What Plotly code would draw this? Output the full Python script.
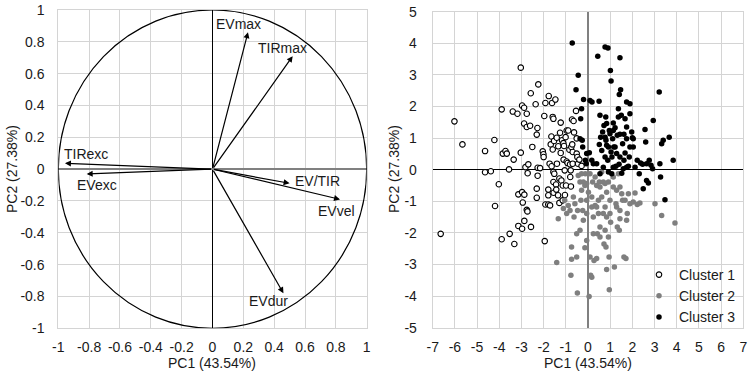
import plotly.graph_objects as go

# ---------------- Loadings (left panel) ----------------
var_names = ["EVmax", "TIRmax", "TIRexc", "EVexc", "EV/TIR", "EVvel", "EVdur"]
load_pc1 = [0.23, 0.52, -0.957, -0.816, 0.50, 0.827, 0.46]
load_pc2 = [0.86, 0.71, 0.037, -0.03, -0.089, -0.19, -0.78]
label_x = [0.01, 0.285, -0.975, -0.89, 0.52, 0.67, 0.225]
label_y = [0.91, 0.76, 0.095, -0.10, -0.074, -0.26, -0.83]

left_ticks = [-1, -0.8, -0.6, -0.4, -0.2, 0, 0.2, 0.4, 0.6, 0.8, 1]
left_ticktext = ["-1", "-0.8", "-0.6", "-0.4", "-0.2", "0", "0.2", "0.4", "0.6", "0.8", "1"]

# ---------------- Scores (right panel) ----------------
c1_x = [-6.64, -6.02, -5.66, -4.64, -4.64, -4.38, -4.22, -4.19, -4.02, -3.89, -3.89, -3.84, -3.72, -3.66,
        -3.56, -3.53, -3.39, -3.35, -3.32, -3.18, -3.14, -3.14, -3.03, -3.03, -2.97, -2.97, -2.97, -2.94,
        -2.88, -2.88, -2.87, -2.87, -2.82, -2.76, -2.76, -2.76, -2.73, -2.72, -2.69, -2.61, -2.58, -2.57,
        -2.51, -2.36, -2.31, -2.28, -2.31, -2.31, -2.27, -2.27, -2.24, -2.16, -2.04, -2.01, -2.00, -1.97,
        -1.95, -1.92, -1.92, -1.79, -1.79, -1.79, -1.77, -1.73, -1.71, -1.68, -1.65, -1.64, -1.62, -1.59,
        -1.56, -1.59, -1.56, -1.56, -1.55, -1.53, -1.52, -1.47, -1.44, -1.43, -1.41, -1.40, -1.35, -1.34,
        -1.29, -1.29, -1.26, -1.23, -1.23, -1.20, -1.17, -1.14, -1.14, -1.11, -1.08, -1.10, -1.05, -1.04,
        -1.01, -0.99, -0.96, -0.96, -0.92, -0.89, -0.84, -0.81, -0.80, -0.78, -0.77, -0.75, -0.72, -0.71,
        -0.69, -0.69, -0.63, -0.51, -0.51, -0.48, -0.45, -0.54, -0.65, -0.29, -0.39]
c1_y = [-2.03, 1.53, 0.80, 0.59, -0.08, -0.05, 0.94, -1.15, -0.46, 1.91, -2.20, 0.51, 0.59, 0.51,
        0.01, -2.03, 1.84, 0.32, -2.35, 1.77, -0.78, -1.78, 3.23, 0.54, 2.03, -0.71, -1.87, -1.04,
        1.96, 1.46, -0.79, -1.62, 0.08, 1.77, 1.35, -1.27, -1.32, -0.11, 0.17, 1.39, 2.42, -1.81,
        0.72, 2.07, 1.11, 1.32, -0.60, -0.89, 0.06, -0.19, 2.70, 0.05, 0.58, 0.49, 0.40, 1.70,
        -2.26, -1.10, 2.11, -1.10, -0.63, -0.81, 2.33, 0.19, -1.13, 0.80, 1.05, 0.11, 2.11, 1.67,
        1.61, 0.64, -0.07, -0.39, -0.73, 0.91, -0.13, 2.22, -0.47, -0.63, 1.01, 0.19, -0.81, 0.74,
        -0.28, -1.05, 1.17, 1.49, 0.53, -0.34, 0.93, -0.50, -0.97, 0.84, 0.75, 0.32, -0.02, -0.80,
        1.03, -0.50, 1.24, 0.26, 0.21, 1.24, 0.63, 0.17, -0.23, -0.02, -0.53, 0.72, 1.59, 0.80,
        0.56, 0.19, 1.18, 0.99, 0.51, 0.40, 0.19, 1.86, 1.54, 0.12, 0.32]

c2_x = [-1.41, -1.34, -1.11, -1.05, -0.96, -0.89, -0.81, -0.77, -0.74, -0.74, -0.66, -0.63, -0.59, -0.51,
        -0.51, -0.48, -0.47, -0.44, -0.36, -0.36, -0.32, -0.29, -0.24, -0.21, -0.14, -0.12, -0.06, -0.06,
        0.02, 0.05, 0.09, 0.09, 0.12, 0.17, 0.17, 0.21, 0.24, 0.27, 0.32, 0.39, 0.39, 0.42, 0.47, 0.51,
        0.54, 0.62, 0.62, 0.69, 0.72, 0.77, 0.77, 0.81, 0.84, 0.84, 0.92, 0.95, 0.96, 0.99, 0.99, 1.02,
        1.14, 1.19, 1.26, 1.29, 1.32, 1.37, 1.41, 1.44, 1.52, 1.56, 1.62, 1.71, 1.74, 1.77, 1.82, 2.04,
        2.12, 2.22, 2.34, 3.02, 3.32, 3.92, -0.29, -0.21, -0.14, -0.06, 0.32, 0.54, 0.77, 0.92, 1.14,
        1.44, 1.67, 1.89, 0.69, 0.84, 0.47, 0.24, 0.39, 1.29, 1.44, 0.54, -0.06, 0.17]
c2_y = [-2.94, -1.55, -1.23, -0.97, -1.39, -1.13, -1.29, -3.34, -2.83, -2.45, -0.86, -1.50, -1.08, -2.03,
        -2.76, -3.90, -1.29, -0.18, -0.39, -1.92, -0.97, -0.65, -1.29, -1.60, -2.47, -0.13, -0.97, -2.24,
        -0.71, -4.01, -0.13, -2.76, -3.34, -3.40, -0.86, -0.39, -2.03, -2.87, -1.13, -0.50, -2.81, -2.03,
        -1.39, -0.39, -2.13, -0.07, -0.86, -0.39, -2.35, -1.92, -1.18, -2.45, -3.16, -0.71, -2.13, -2.76,
        -3.80, -1.39, -0.97, -1.66, -0.23, -3.08, -1.08, -0.65, -1.81, -0.13, -1.92, -1.55, -0.76, -0.97,
        -2.76, -2.81, -1.60, -1.39, -0.76, -1.02, -0.74, -1.10, -1.05, -1.08, -1.45, -1.69, -0.13, -0.39,
        -0.50, -0.44, -0.23, -0.55, -0.44, -0.39, -0.55, -0.55, -0.97, -1.08, -1.39, -1.50, -0.97, -1.50,
        -1.18, -1.18, -1.29, -1.81, -1.39, -1.18]

c3_x = [-0.71, -0.54, -0.44, -0.29, -0.33, -0.36, -0.26, -0.24, -0.20, -0.12, -0.08, -0.06, 0.06, 0.09,
        0.18, 0.24, 0.39, 0.44, 0.50, 0.51, 0.54, 0.62, 0.66, 0.72, 0.77, 0.80, 0.84, 0.84, 0.90, 0.89,
        0.92, 0.96, 0.99, 1.01, 1.04, 1.04, 1.07, 1.08, 1.11, 1.14, 1.16, 1.22, 1.26, 1.32, 1.37, 1.37,
        1.40, 1.41, 1.44, 1.44, 1.47, 1.50, 1.52, 1.56, 1.62, 1.67, 1.67, 1.74, 1.74, 1.82, 1.89, 1.89,
        2.00, 2.04, 2.12, 2.22, 2.31, 2.37, 2.46, 2.49, 2.57, 2.60, 2.64, 2.64, 2.72, 2.76, 2.84, 2.91,
        2.94, 3.21, 3.24, 3.27, 3.32, 3.39, 3.47, 3.66, 3.84, 0.57, 0.77, 0.81, 0.92, 1.22, 1.29, 1.44,
        1.62, 1.86, 0.69, 1.14, 1.59, 1.74, 0.17, 0.54, 1.89, 2.04, 0.77, 1.14, 1.74, 1.97]
c3_y = [4.01, 2.53, 2.99, 1.93, 1.61, 0.98, 0.93, 0.72, 2.22, 0.30, 0.19, 0.51, 0.54, 2.19,
        2.14, 0.19, 0.19, 3.59, 2.17, 0.80, 1.72, 0.61, 1.19, 1.40, 3.88, 1.67, 1.46, 0.77, 3.85, 0.30,
        -0.07, 1.24, 1.14, 3.14, 2.81, 0.56, -0.13, 0.40, 0.98, 1.48, 0.72, 1.33, 0.11, 1.09, 1.67, 1.93,
        0.17, 2.38, 3.54, 1.12, 2.53, 1.72, -0.11, 0.82, 1.12, 1.61, 0.53, 2.14, 0.98, 0.11, 2.09, 1.77,
        1.01, 0.72, 0.08, 0.30, -0.13, 0.21, 0.17, -0.60, 1.27, 0.88, -0.34, 0.19, -0.42, 0.30, 0.14, 0.03,
        1.56, 2.46, 0.19, -0.23, 0.82, 0.93, -0.95, 1.03, 0.30, 1.03, 1.03, 0.93, 0.72, 0.72, 0.51, 0.40,
        0.30, 0.40, 0.08, 0.08, 0.03, 0.08, 0.30, -0.13, 0.72, 0.98, 0.40, 1.24, 1.35, 1.19]

right_xticks = list(range(-7, 8))
right_yticks = list(range(-5, 6))

FONT = "Liberation Sans, Arial, sans-serif"
GRID = "#d4d4d4"
TXT = "#1a1a1a"

fig = go.Figure()

# invisible trace so left axes get drawn
fig.add_trace(go.Scatter(x=[0], y=[0], mode="markers", marker=dict(size=1, opacity=0),
                         showlegend=False, hoverinfo="skip", xaxis="x", yaxis="y"))

fig.add_trace(go.Scatter(x=c1_x, y=c1_y, mode="markers", name="Cluster 1", xaxis="x2", yaxis="y2",
                         marker=dict(size=5.5, color="white", line=dict(color="black", width=1.1))))
fig.add_trace(go.Scatter(x=c2_x, y=c2_y, mode="markers", name="Cluster 2", xaxis="x2", yaxis="y2",
                         marker=dict(size=5.5, color="#7f7f7f", line=dict(width=0))))
fig.add_trace(go.Scatter(x=c3_x, y=c3_y, mode="markers", name="Cluster 3", xaxis="x2", yaxis="y2",
                         marker=dict(size=5.5, color="black", line=dict(width=0))))

# unit circle
fig.add_shape(type="circle", xref="x", yref="y", x0=-1, y0=-1, x1=1, y1=1,
              line=dict(color="black", width=1.2), layer="above")

annotations = []
for name, px, py, lx, ly in zip(var_names, load_pc1, load_pc2, label_x, label_y):
    annotations.append(dict(x=px, y=py, ax=0, ay=0, xref="x", yref="y", axref="x", ayref="y",
                            showarrow=True, arrowhead=2, arrowsize=1, arrowwidth=1.2,
                            arrowcolor="black", text=""))
    annotations.append(dict(x=lx, y=ly, xref="x", yref="y", text=name, showarrow=False,
                            xanchor="left", yanchor="middle",
                            font=dict(family=FONT, size=14, color=TXT)))

# axis titles
title_font = dict(family=FONT, size=14, color=TXT)
annotations += [
    dict(x=212 / 750, y=1 - 363 / 373, xref="paper", yref="paper", text="PC1 (43.54%)",
         xanchor="center", yanchor="middle", showarrow=False, font=title_font),
    dict(x=588 / 750, y=1 - 363 / 373, xref="paper", yref="paper", text="PC1 (43.54%)",
         xanchor="center", yanchor="middle", showarrow=False, font=title_font),
    dict(x=12 / 750, y=1 - 169 / 373, xref="paper", yref="paper", text="PC2 (27.38%)", textangle=-90,
         xanchor="center", yanchor="middle", showarrow=False, font=title_font),
    dict(x=394 / 750, y=1 - 169 / 373, xref="paper", yref="paper", text="PC2 (27.38%)", textangle=-90,
         xanchor="center", yanchor="middle", showarrow=False, font=title_font),
]

tickfont = dict(family=FONT, size=14, color=TXT)
common = dict(showgrid=True, gridcolor=GRID, gridwidth=1, showline=True, linecolor=GRID, mirror=True,
              ticks="", tickfont=tickfont, fixedrange=True, automargin=False)

fig.update_layout(
    width=750, height=373, margin=dict(l=0, r=0, t=0, b=0, autoexpand=False),
    paper_bgcolor="white", plot_bgcolor="white",
    showlegend=True,
    legend=dict(x=0.988, y=1 - 259 / 373, xanchor="right", yanchor="top",
                bgcolor="rgba(0,0,0,0)", font=dict(family=FONT, size=14, color=TXT),
                itemwidth=30, tracegroupgap=0),
    xaxis=dict(domain=[58.3 / 750, 366.7 / 750], range=[-1, 1], tickvals=left_ticks,
               ticktext=left_ticktext, zeroline=True, zerolinecolor="black", zerolinewidth=1.2,
               ticklabelstandoff=6, **common),
    yaxis=dict(domain=[1 - 328.3 / 373, 1 - 10 / 373], range=[-1, 1], tickvals=left_ticks,
               ticktext=left_ticktext, zeroline=True, zerolinecolor="#808080", zerolinewidth=2,
               ticklabelstandoff=10, **common),
    xaxis2=dict(domain=[432.7 / 750, 743.3 / 750], range=[-7, 7], tickvals=right_xticks,
                ticktext=[str(v) for v in right_xticks], zeroline=True, zerolinecolor="#808080",
                zerolinewidth=2, anchor="y2", ticklabelstandoff=6, **common),
    yaxis2=dict(domain=[1 - 327.7 / 373, 1 - 11.7 / 373], range=[-5, 5], tickvals=right_yticks,
                ticktext=[str(v) for v in right_yticks], zeroline=True, zerolinecolor="black",
                zerolinewidth=1.4, anchor="x2", ticklabelstandoff=12, **common),
    annotations=annotations,
)

fig.write_html("out.html")
